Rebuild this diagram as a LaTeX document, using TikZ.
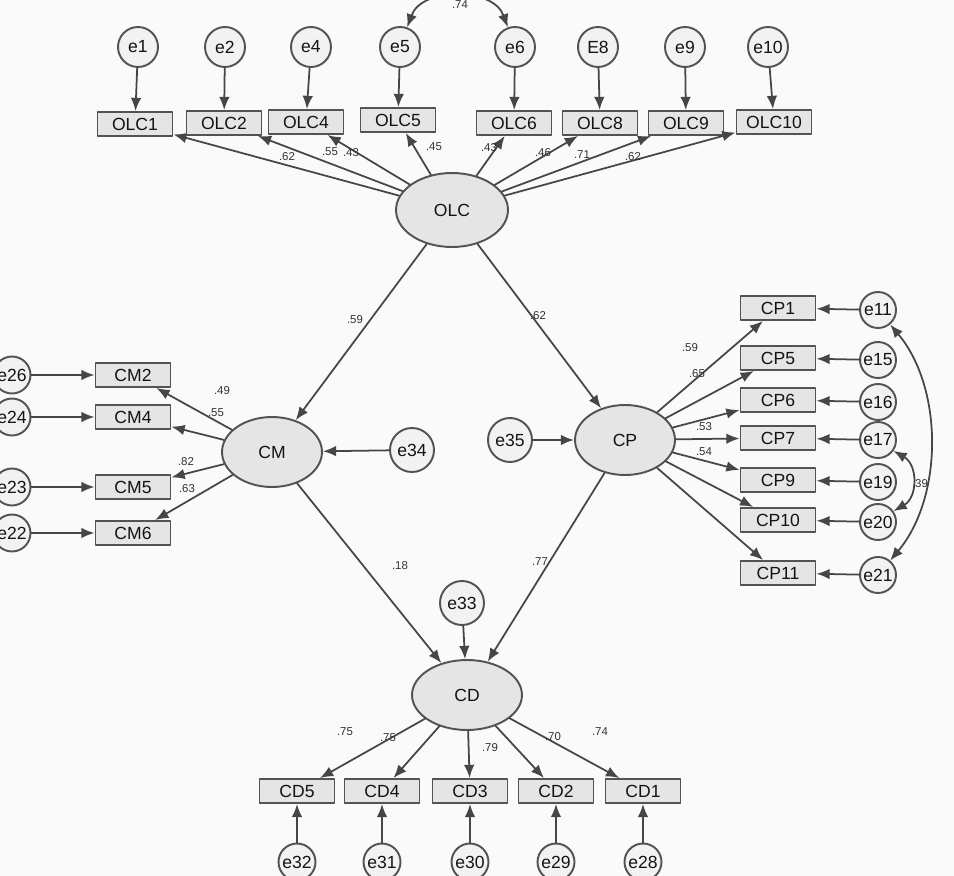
\documentclass[tikz,border=0pt]{standalone}
\usepackage{fontspec}
\setmainfont{Liberation Sans}
\usetikzlibrary{arrows.meta,shapes.geometric}
\tikzset{
  obs/.style={draw=gray!65!black,fill=gray!20,line width=1.1pt,minimum width=1.5cm,minimum height=0.48cm,inner sep=1pt,font=\fontsize{10}{10}\selectfont,text=gray!15!black},
  lat/.style={ellipse,draw=gray!65!black,fill=gray!20,line width=1.1pt,inner sep=0pt,font=\fontsize{10}{10}\selectfont,text=gray!15!black},
  err/.style={circle,draw=gray!65!black,fill=gray!10,line width=1.1pt,minimum size=0.74cm,inner sep=0pt,font=\fontsize{10}{10}\selectfont,text=gray!15!black},
  lnk/.style={-{Latex[length=7.5pt,width=6pt]},draw=gray!55!black,line width=1pt},
  cov/.style={{Latex[length=7.5pt,width=6pt]}-{Latex[length=7.5pt,width=6pt]},draw=gray!55!black,line width=1pt},
  wt/.style={font=\fontsize{6.5}{6.5}\selectfont,text=gray!40!black,inner sep=0.5pt},
}
\begin{document}
\begin{tikzpicture}[x=0.02cm,y=-0.02cm,line join=round,line cap=round]
\useasboundingbox (0,0) rectangle (954,876);
\clip (0,0) rectangle (954,876);
\fill[gray!4] (0,0) rectangle (954,876);
% latent variables
\node[lat,minimum width=2.24cm,minimum height=1.48cm] (OLC) at (452,210) {OLC};
\node[lat,minimum width=2cm,minimum height=1.4cm] (CM) at (272,452) {CM};
\node[lat,minimum width=2cm,minimum height=1.4cm] (CP) at (625,440) {CP};
\node[lat,minimum width=2.2cm,minimum height=1.4cm] (CD) at (467,695) {CD};
\node[err,minimum size=0.88cm] (e34) at (412,450) {e34};
\node[err,minimum size=0.88cm] (e35) at (510,440) {e35};
\node[err,minimum size=0.88cm] (e33) at (462,603) {e33};
\draw[lnk] (e34) -- (CM);
\draw[lnk] (e35) -- (CP);
\draw[lnk] (e33) -- (CD);
% structural paths
\draw[lnk] (OLC) -- (CM);
\draw[lnk] (OLC) -- (CP);
\draw[lnk] (CM) -- (CD);
\draw[lnk] (CP) -- (CD);
\node[wt] (wa) at (355,320) {.59};
\node[wt] (wb) at (538,316) {.62};
\node[wt] (wc) at (400,566) {.18};
\node[wt] (wd) at (540,562) {.77};
% OLC indicators
\foreach \n/\x/\y/\er/\ex in {OLC1/135/124/e1/138,OLC2/224/123/e2/225,OLC4/306/122/e4/311,OLC5/398/120/e5/400,OLC6/514/123/e6/515,OLC8/600/123/E8/598,OLC9/686/123/e9/685,OLC10/774/122/e10/768}
{
  \node[obs] (\n) at (\x,\y) {\n};
  \node[err,minimum height=0.8cm] (\er) at (\ex,47) {\er};
  \draw[lnk] (\er) -- (\n);
  \draw[lnk] (OLC) -- (\n);
}
\foreach \i/\lx/\ly/\v in {1/287/157/.62,2/330/152/.55,3/351/153/.43,4/434/147/.45,5/489/148/.43,6/543/153/.46,7/582/155/.71,8/633/157/.62}
  \node[wt] (wo\i) at (\lx,\ly) {\v};
\draw[cov] (e5.70) to[out=70,in=110,looseness=1.1] (e6.110);
\node[wt] (wo9) at (460,5) {.74};
% CM indicators
\foreach \n/\y/\er in {CM2/375/e26,CM4/417/e24,CM5/487/e23,CM6/533/e22}
{
  \node[obs] (\n) at (133,\y) {\n};
  \node[err] (\er) at (12,\y) {\er};
  \draw[lnk] (\er) -- (\n);
  \draw[lnk] (CM) -- (\n);
}
\foreach \i/\lx/\ly/\v in {1/222/391/.49,2/216/413/.55,3/186/462/.82,4/187/489/.63}
  \node[wt] (wm\i) at (\lx,\ly) {\v};
% CP indicators
\foreach \n/\y/\er in {CP1/308/e11,CP5/358/e15,CP6/400/e16,CP7/438/e17,CP9/480/e19,CP10/520/e20,CP11/573/e21}
{
  \node[obs] (\n) at (778,\y) {\n};
  \node[err,minimum size=0.72cm] (\er) at (878,\y+2) {\er};
  \draw[lnk] (\er) -- (\n);
  \draw[lnk] (CP) -- (\n);
}
\foreach \i/\lx/\ly/\v in {1/690/348/.59,2/697/374/.65,3/704/427/.53,4/704/452/.54}
  \node[wt] (wp\i) at (\lx,\ly) {\v};
\draw[cov] (e11.-50) to[out=-50,in=50,looseness=0.9] (e21.50);
\draw[cov] (e17.-35) to[out=-30,in=30,looseness=1.2] (e20.35);
\node[wt] (wp5) at (920,484) {.39};
% CD indicators
\foreach \n/\x/\er in {CD5/297/e32,CD4/382/e31,CD3/470/e30,CD2/556/e29,CD1/643/e28}
{
  \node[obs] (\n) at (\x,791) {\n};
  \node[err] (\er) at (\x,862) {\er};
  \draw[lnk] (\er) -- (\n);
  \draw[lnk] (CD) -- (\n);
}
\foreach \i/\lx/\ly/\v in {1/345/732/.75,2/388/738/.75,3/490/748/.79,4/553/737/.70,5/600/732/.74}
  \node[wt] (wd\i) at (\lx,\ly) {\v};
\end{tikzpicture}
\end{document}
